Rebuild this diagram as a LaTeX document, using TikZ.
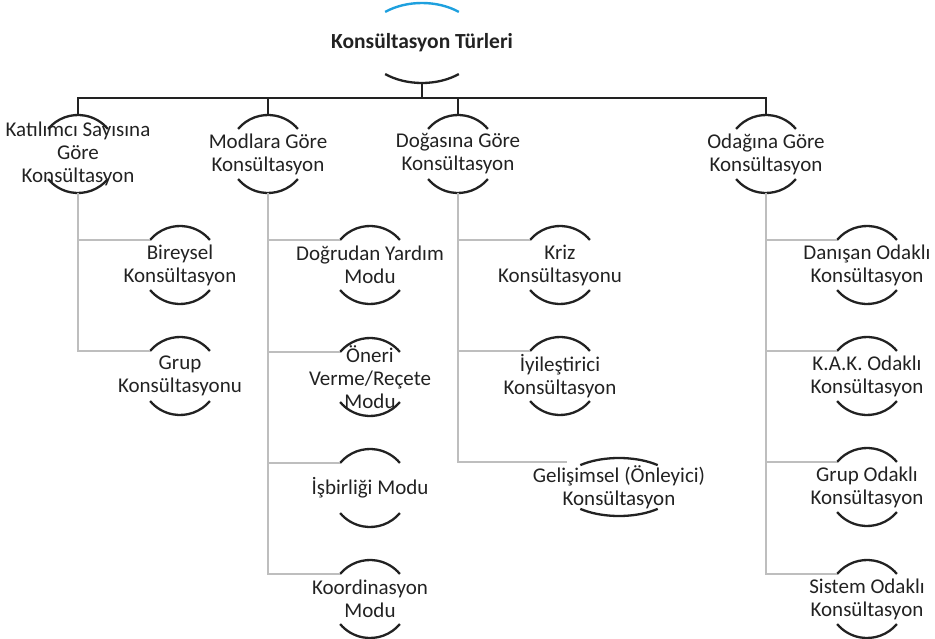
\documentclass[tikz,border=0pt]{standalone}
\usepackage{fontspec}
\setmainfont{Carlito}
\definecolor{capblue}{RGB}{30,160,222}
\definecolor{inkgray}{RGB}{34,34,34}
\definecolor{stemgray}{RGB}{190,190,190}

% Draws the two caps (upper and lower arc) around a named node and
% defines its anchor points: -n (top of upper cap), -s (bottom of lower cap),
% -w (left end of upper cap).
% #1 node name, #2 x radius, #3 y radius, #4 angle of the cap ends, #5 style of the upper cap
\newcommand{\ringarcs}[5]{%
  \draw[#5] (#1.center) ++(180+#4:#2 and #3)
    arc[start angle=180+#4, end angle=360-#4, x radius=#2, y radius=#3];
  \draw[capline] (#1.center) ++(#4:#2 and #3)
    arc[start angle=#4, end angle=180-#4, x radius=#2, y radius=#3];
  \path (#1.center) ++(0,-#3) coordinate (#1-n);
  \path (#1.center) ++(0,#3) coordinate (#1-s);
  \path (#1.center) ++(180+#4:#2 and #3) coordinate (#1-w);
}

\begin{document}
\begin{tikzpicture}[x=1pt,y=-1pt,
  lbl/.style={align=center, inner sep=0pt, text=inkgray,
    font=\fontsize{21}{23}\selectfont},
  rootlbl/.style={lbl, font=\bfseries\fontsize{21.5}{23}\selectfont},
  capline/.style={line width=2.3pt, inkgray},
  bluecap/.style={line width=2.4pt, capblue},
  trunk/.style={line width=1.8pt, inkgray},
  branch/.style={line width=2.6pt, stemgray},
]
\useasboundingbox (0,0) rectangle (935,639);

% root
\node[rootlbl] (root) at (422,43) {Konsültasyon Türleri};
\ringarcs{root}{58.5}{40}{51}{bluecap}

% first level
\node[lbl] (k1) at (78,154) {Katılımcı Sayısına\\Göre\\Konsültasyon};
\node[lbl] (k2) at (268,154) {Modlara Göre\\Konsültasyon};
\node[lbl] (k3) at (458,154) {Doğasına Göre\\Konsültasyon};
\node[lbl] (k4) at (766,154) {Odağına Göre\\Konsültasyon};
\foreach \n in {k1,k2,k3,k4}{\ringarcs{\n}{39}{39}{40}{capline}}

% second level
\node[lbl] (a1) at (180,265) {Bireysel\\Konsültasyon};
\node[lbl] (a2) at (180,376) {Grup\\Konsültasyonu};

\node[lbl] (b1) at (370,265) {Doğrudan Yardım\\Modu};
\node[lbl] (b2) at (370,377) {Öneri\\Verme/Reçete\\Modu};
\node[lbl] (b3) at (370,488) {İşbirliği Modu};
\node[lbl] (b4) at (370,599) {Koordinasyon\\Modu};

\node[lbl] (c1) at (560,265) {Kriz\\Konsültasyonu};
\node[lbl] (c2) at (560,376) {İyileştirici\\Konsültasyon};
\node[lbl] (c3) at (619,487) {Gelişimsel (Önleyici)\\Konsültasyon};

\node[lbl] (d1) at (867,265) {Danışan Odaklı\\Konsültasyon};
\node[lbl] (d2) at (867,376) {K.A.K. Odaklı\\Konsültasyon};
\node[lbl] (d3) at (867,487) {Grup Odaklı\\Konsültasyon};
\node[lbl] (d4) at (867,599) {Sistem Odaklı\\Konsültasyon};

\foreach \n in {a1,a2,b1,b2,b3,b4,c1,c2,d1,d2,d3,d4}{\ringarcs{\n}{39}{39}{40}{capline}}
\ringarcs{c3}{59}{29}{49}{capline}

% connectors: root to first level
\draw[trunk] (root-s) -- ++(0,15) coordinate (hub);
\draw[trunk] (k1-n) |- (hub) -| (k4-n);
\draw[trunk] (hub) -| (k2-n);
\draw[trunk] (hub) -| (k3-n);

% connectors: first level to second level
\foreach \p/\c in {k1/a1,k1/a2,k2/b1,k2/b2,k2/b3,k2/b4,k3/c1,k3/c2,k4/d1,k4/d2,k4/d3,k4/d4}
  {\draw[branch] (\p-s) |- (\c-w);}
\draw[branch] (k3-s) |- ([xshift=-13pt,yshift=3pt]c3-w);
\end{tikzpicture}
\end{document}
